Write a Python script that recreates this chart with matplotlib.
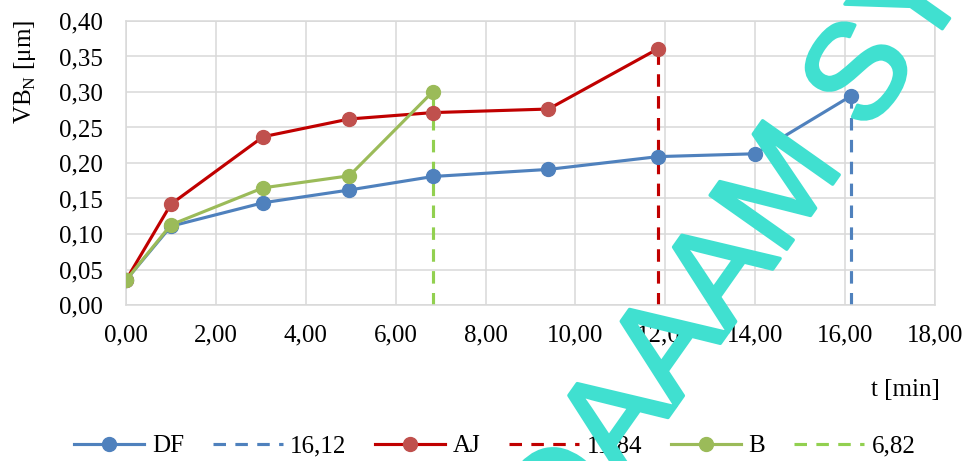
import numpy as np
import matplotlib.pyplot as plt
import matplotlib.patheffects as pe
from matplotlib.ticker import FuncFormatter, MultipleLocator

plt.rcParams['font.family'] = ['Liberation Serif', 'DejaVu Serif']
plt.rcParams['mathtext.fontset'] = 'custom'
plt.rcParams['mathtext.rm'] = 'Liberation Serif'

# data
t_df = [0.0, 1.0, 3.05, 4.97, 6.83, 9.4, 11.84, 14.0, 16.12]
vb_df = [0.035, 0.111, 0.144, 0.162, 0.181, 0.191, 0.209, 0.213, 0.294]
t_aj = [0.0, 1.0, 3.05, 4.97, 6.83, 9.4, 11.84]
vb_aj = [0.035, 0.142, 0.237, 0.262, 0.271, 0.276, 0.361]
t_b = [0.0, 1.0, 3.05, 4.97, 6.82]
vb_b = [0.035, 0.113, 0.165, 0.182, 0.300]
t_end = [16.12, 11.84, 6.82]
end_labels = ['16,12', '11,84', '6,82']

W, H = 966, 461
fig = plt.figure(figsize=(W / 100, H / 100), dpi=100)
ax = fig.add_axes([126 / W, 1 - 305 / H, 809 / W, 284 / H])

lw = 2.25
ms = 10
ax.plot(t_df, vb_df, '-o', color='#4F81BD', mfc='#4F81BD', mec='#4F81BD', lw=lw, ms=ms, label='DF', zorder=3)
ax.plot([t_end[0]] * 2, [0, vb_df[-1]], color='#4F81BD', lw=lw, dashes=(4, 3), label=end_labels[0], zorder=2)
ax.plot(t_aj, vb_aj, '-o', color='#C00000', mfc='#C0504D', mec='#C0504D', lw=lw, ms=ms, label='AJ', zorder=3)
ax.plot([t_end[1]] * 2, [0, vb_aj[-1]], color='#C00000', lw=lw, dashes=(4, 3), label=end_labels[1], zorder=2)
ax.plot(t_b, vb_b, '-o', color='#9BBB59', mfc='#9BBB59', mec='#9BBB59', lw=lw, ms=ms, label='B', zorder=3)
ax.plot([t_end[2]] * 2, [0, vb_b[-1]], color='#92D050', lw=lw, dashes=(4, 3), label=end_labels[2], zorder=2)

ax.set_xlim(0, 18)
ax.set_ylim(0, 0.40)
ax.xaxis.set_major_locator(MultipleLocator(2))
ax.yaxis.set_major_locator(MultipleLocator(0.05))
fmt = FuncFormatter(lambda v, p: f'{v:.2f}'.replace('.', ','))
ax.xaxis.set_major_formatter(fmt)
ax.yaxis.set_major_formatter(fmt)
ax.tick_params(length=0, labelsize=18)
ax.tick_params(axis='x', pad=14)
ax.tick_params(axis='y', pad=17)
ax.grid(True, color='#D9D9D9', lw=1.1)
ax.set_axisbelow(True)
for s in ax.spines.values():
    s.set_color('#D9D9D9')
    s.set_linewidth(1.1)

fig.text(25 / W, 1 - 72 / H, 'VB$_\\mathregular{N}$ [μm]', rotation=90, ha='center', va='center', fontsize=18)
fig.text(940 / W, 1 - 390 / H, 't [min]', ha='right', va='center', fontsize=18)

fig.legend(loc='center', bbox_to_anchor=(495 / W, 1 - 446 / H), ncol=6, frameon=False, fontsize=18,
           handlelength=2.8, handletextpad=0.3, columnspacing=1.15, borderaxespad=0)

# watermark
wm = '#40E0D0'
fig.text(538 / W, -80 / H, 'DAAAM SYMPOSIUM', rotation=54.8, rotation_mode='anchor',
         ha='left', va='center', fontsize=98, family='Liberation Sans', color=wm, zorder=10,
         path_effects=[pe.withStroke(linewidth=2.5, foreground=wm)])

fig.savefig('out.png', dpi=100)
